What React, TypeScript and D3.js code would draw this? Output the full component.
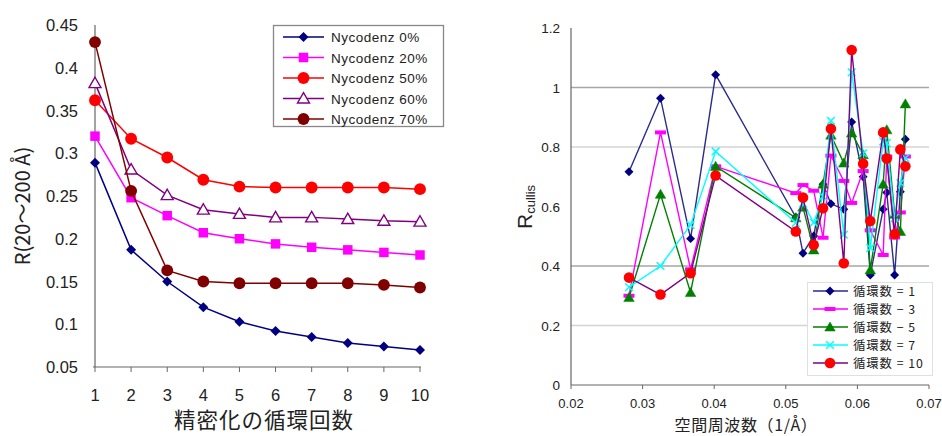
import React from 'react';
import * as d3 from 'd3';

// left chart: R(20~200 Å) vs refinement cycles
const cycles = [1, 2, 3, 4, 5, 6, 7, 8, 9, 10];
const nyco0 = [0.289, 0.187, 0.150, 0.120, 0.103, 0.092, 0.085, 0.078, 0.074, 0.070];
const nyco20 = [0.320, 0.248, 0.227, 0.207, 0.200, 0.194, 0.190, 0.187, 0.184, 0.181];
const nyco50 = [0.362, 0.317, 0.295, 0.269, 0.261, 0.260, 0.260, 0.260, 0.260, 0.258];
const nyco60 = [0.382, 0.281, 0.251, 0.234, 0.229, 0.225, 0.225, 0.223, 0.221, 0.220];
const nyco70 = [0.430, 0.256, 0.163, 0.150, 0.148, 0.148, 0.148, 0.148, 0.146, 0.143];
const leftYTicks = [0.05, 0.1, 0.15, 0.2, 0.25, 0.3, 0.35, 0.4, 0.45];

// right chart: R_cullis vs spatial frequency
const freq = [0.0281, 0.0325, 0.0367, 0.0402, 0.0514, 0.0524, 0.0539, 0.0552, 0.0563, 0.0581,
  0.0592, 0.0608, 0.0618, 0.0636, 0.0641, 0.0652, 0.0660, 0.0667];
const cyc1 = [0.717, 0.964, 0.492, 1.043, 0.564, 0.443, 0.501, 0.675, 0.609, 0.591, 0.884, 0.700,
  0.370, 0.591, 0.647, 0.370, 0.650, 0.826];
const cyc3 = [0.300, 0.849, 0.389, 0.735, 0.645, 0.672, 0.653, 0.495, 0.771, 0.686, 0.612, 0.719,
  0.520, 0.437, 0.768, 0.496, 0.580, 0.768];
const cyc5 = [0.294, 0.641, 0.311, 0.735, 0.562, 0.598, 0.454, 0.675, 0.840, 0.746, 0.847, 0.774,
  0.387, 0.675, 0.858, 0.574, 0.516, 0.945];
const cyc7 = [0.329, 0.400, 0.538, 0.785, 0.545, 0.610, 0.546, 0.634, 0.888, 0.505, 1.051, 0.779,
  0.460, 0.819, 0.813, 0.561, 0.679, 0.763];
const cyc10 = [0.361, 0.304, 0.376, 0.704, 0.516, 0.630, 0.471, 0.594, 0.861, 0.409, 1.126, 0.744,
  0.551, 0.849, 0.761, 0.507, 0.792, 0.735];
const rightXTicks = [0.02, 0.03, 0.04, 0.05, 0.06, 0.07];
const rightYTicks = [0, 0.2, 0.4, 0.6, 0.8, 1, 1.2];
const rightGrid = [0.2, 0.4, 0.8, 1];

const NUM_FONT = '"Liberation Sans", Arial, sans-serif';
const JP_FONT = '"Noto Sans CJK JP", sans-serif';

type Marker = 'diamond' | 'square' | 'circle' | 'triangle' | 'openTriangle' | 'dash' | 'cross';

const MarkerShape = ({ type, x, y, color, big }: { type: Marker; x: number; y: number; color: string; big?: boolean }) => {
  const k = big ? 1.12 : 1;
  if (type === 'diamond') {
    const p = d3.symbol().type(d3.symbolSquare).size(40 * k * k)();
    return <path d={p || ''} transform={`translate(${x},${y}) rotate(45)`} fill={color} />;
  }
  if (type === 'square') {
    const p = d3.symbol().type(d3.symbolSquare).size(90)();
    return <path d={p || ''} transform={`translate(${x},${y})`} fill={color} />;
  }
  if (type === 'circle') {
    return <circle cx={x} cy={y} r={5.3 * k} fill={color} />;
  }
  if (type === 'triangle' || type === 'openTriangle') {
    const p = d3.symbol().type(d3.symbolTriangle).size(type === 'openTriangle' ? 62 : 48)();
    return (
      <path d={p || ''} transform={`translate(${x},${y + 1})`}
        fill={type === 'openTriangle' ? '#fff' : color} stroke={color}
        strokeWidth={type === 'openTriangle' ? 1.4 : 0.5} />
    );
  }
  if (type === 'dash') {
    return <rect x={x - 5.5} y={y - 2} width={11} height={4} fill={color} />;
  }
  // cross
  const p = d3.symbol().type(d3.symbolX).size(40)();
  return <path d={p || ''} transform={`translate(${x},${y})`} stroke={color} strokeWidth={1.5} fill="none" />;
};

const leftSeries = [
  { name: 'Nycodenz 0%', values: nyco0, color: '#000080', marker: 'diamond' as Marker },
  { name: 'Nycodenz 20%', values: nyco20, color: '#ff00ff', marker: 'square' as Marker },
  { name: 'Nycodenz 50%', values: nyco50, color: '#ff0000', marker: 'circle' as Marker },
  { name: 'Nycodenz 60%', values: nyco60, color: '#800080', marker: 'openTriangle' as Marker },
  { name: 'Nycodenz 70%', values: nyco70, color: '#800000', marker: 'circle' as Marker },
];

const rightSeries = [
  { name: '循環数 = 1', values: cyc1, line: '#2b2b8c', color: '#000080', marker: 'diamond' as Marker },
  { name: '循環数 − 3', values: cyc3, line: '#ff00ff', color: '#ff00ff', marker: 'dash' as Marker },
  { name: '循環数 − 5', values: cyc5, line: '#008000', color: '#008000', marker: 'triangle' as Marker },
  { name: '循環数 = 7', values: cyc7, line: '#00ffff', color: '#00ffff', marker: 'cross' as Marker },
  { name: '循環数 = 10', values: cyc10, line: '#800080', color: '#ff0000', marker: 'circle' as Marker },
];

const LeftChart = () => {
  const x = d3.scaleLinear().domain([1, 10]).range([95, 420]);
  const y = d3.scaleLinear().domain([0.05, 0.45]).range([367, 25]);
  const line = d3.line<number>().x((_, i) => x(cycles[i])).y(d => y(d));
  return (
    <g>
      {/* axes */}
      <line x1={95} x2={95} y1={y(0.45)} y2={y(0.05)} stroke="#666" strokeWidth={1.2} />
      <line x1={93} x2={421} y1={y(0.05)} y2={y(0.05)} stroke="#666" strokeWidth={1.2} />
      {cycles.map(c => (
        <g key={c}>
          <line x1={x(c)} x2={x(c)} y1={y(0.05)} y2={y(0.05) + 5} stroke="#666" />
          <text x={x(c)} y={401} textAnchor="middle" fontSize={16.5} fontFamily={NUM_FONT} fill="#222">{c}</text>
        </g>
      ))}
      {leftYTicks.map(t => (
        <text key={t} x={78} y={y(t) + 6} textAnchor="end" fontSize={16.5} fontFamily={NUM_FONT} fill="#222">
          {String(+t.toFixed(2))}
        </text>
      ))}
      <text transform={`translate(30,${y(0.25) + 10}) rotate(-90)`} textAnchor="middle" fontSize={20}
        fontFamily={JP_FONT} fill="#222">R(20〜200 Å)</text>
      <text x={264} y={428} textAnchor="middle" fontSize={21.5} fontFamily={JP_FONT} fill="#222"
        letterSpacing={1}>精密化の循環回数</text>

      {leftSeries.map(s => (
        <g key={s.name}>
          <path d={line(s.values) || ''} fill="none" stroke={s.color} strokeWidth={1.5} />
          {s.values.map((v, i) => (
            <MarkerShape key={i} type={s.marker} x={x(cycles[i])} y={y(v)} color={s.color} big />
          ))}
        </g>
      ))}

      {/* legend */}
      <rect x={273.5} y={25.5} width={170} height={101} fill="#fff" stroke="#888" strokeWidth={1.3} />
      {leftSeries.map((s, i) => {
        const ly = 37 + i * 20.5;
        return (
          <g key={s.name}>
            <line x1={283} x2={324} y1={ly} y2={ly} stroke={s.color} strokeWidth={1.5} />
            <MarkerShape type={s.marker} x={303.5} y={ly} color={s.color} big />
            <text x={331} y={ly + 5} fontSize={13.5} fontFamily={NUM_FONT} fill="#222" letterSpacing={0.5}>{s.name}</text>
          </g>
        );
      })}
    </g>
  );
};

const RightChart = () => {
  const x = d3.scaleLinear().domain([0.02, 0.07]).range([571, 929]);
  const y = d3.scaleLinear().domain([0, 1.2]).range([385, 28]);
  const line = d3.line<number>().x((_, i) => x(freq[i])).y(d => y(d));
  return (
    <g>
      {rightGrid.map(g => (
        <line key={g} x1={571} x2={929} y1={y(g)} y2={y(g)}
          stroke={g === 0.4 || g === 1 ? '#a6a6a6' : '#d4d4d4'} strokeWidth={1.3} />
      ))}
      <line x1={571} x2={571} y1={y(1.2)} y2={y(0)} stroke="#666" strokeWidth={1.2} />
      <line x1={571} x2={929} y1={y(0)} y2={y(0)} stroke="#666" strokeWidth={1.2} />
      {rightXTicks.map(t => (
        <g key={t}>
          <line x1={x(t)} x2={x(t)} y1={y(0)} y2={y(0) + 4} stroke="#666" />
          <text x={x(t)} y={408} textAnchor="middle" fontSize={13} fontFamily={NUM_FONT} fill="#222">{t.toFixed(2)}</text>
        </g>
      ))}
      {rightYTicks.map(t => (
        <text key={t} x={560} y={y(t) + 5} textAnchor="end" fontSize={13.5} fontFamily={NUM_FONT} fill="#222">
          {String(+t.toFixed(1))}
        </text>
      ))}
      <text transform={`translate(532,229) rotate(-90)`} fontFamily={NUM_FONT} fill="#222">
        <tspan fontSize={21}>R</tspan>
        <tspan fontSize={13} dy={3}>cullis</tspan>
      </text>
      <text x={746} y={431} textAnchor="middle" fontSize={16} fontFamily={JP_FONT} fill="#222"
        letterSpacing={0.6}>空間周波数（1/Å）</text>

      {rightSeries.map(s => (
        <g key={s.name}>
          <path d={line(s.values) || ''} fill="none" stroke={s.line} strokeWidth={1.4} />
          {s.values.map((v, i) => (
            <MarkerShape key={i} type={s.marker} x={x(freq[i])} y={y(v)} color={s.color} />
          ))}
        </g>
      ))}

      {/* legend */}
      <rect x={807.5} y={282.5} width={125} height={93} fill="#fff" stroke="#e0e0e0" strokeWidth={1} />
      {rightSeries.map((s, i) => {
        const ly = 291 + i * 18;
        return (
          <g key={s.name}>
            <line x1={813} x2={848} y1={ly} y2={ly} stroke={s.line} strokeWidth={1.4} />
            <MarkerShape type={s.marker} x={830} y={ly} color={s.color} />
            <text x={853} y={ly + 4.5} fontSize={12.3} fontFamily={JP_FONT} fill="#222" letterSpacing={1}>{s.name}</text>
          </g>
        );
      })}
    </g>
  );
};

export default function App() {
  return (
    <svg width={942} height={436} viewBox="0 0 942 436"
      style={{ position: 'absolute', left: 0, top: 0, background: '#fff' }}>
      <LeftChart />
      <RightChart />
    </svg>
  );
}
